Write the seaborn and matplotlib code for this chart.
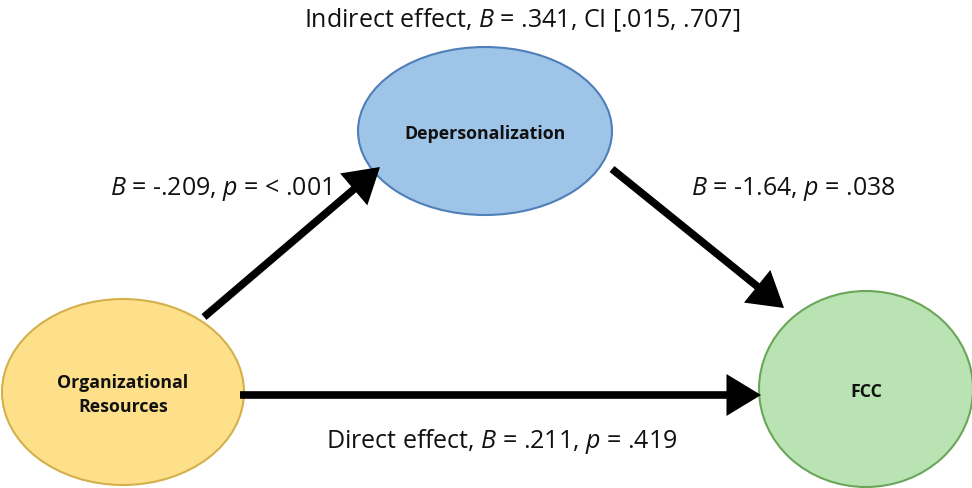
import matplotlib
matplotlib.use("Agg")
import matplotlib.pyplot as plt
import seaborn as sns
from matplotlib.patches import Ellipse

# node labels and path coefficients
nodes = ["Organizational\nResources", "Depersonalization", "FCC"]
a_path = ["-.209", "< .001"]
b_path = ["-1.64", ".038"]
direct = [".211", ".419"]
indirect = [".341", ".015", ".707"]

sns.set_theme(style="white")
plt.rcParams["font.family"] = ["Open Sans", "DejaVu Sans"]
plt.rcParams["mathtext.fontset"] = "custom"
plt.rcParams["mathtext.it"] = "Open Sans:italic"
plt.rcParams["mathtext.rm"] = "Open Sans"

fig = plt.figure(figsize=(9.72, 4.89), dpi=100)
ax = fig.add_axes([0, 0, 1, 1])
ax.set_xlim(0, 972)
ax.set_ylim(489, 0)
ax.axis("off")

# ellipses: (center, width, height, fill, edge)
shapes = [
    ((123, 393), 242, 186, "#FFE08A", "#D4B04A"),
    ((485, 132), 254, 168, "#9EC4E8", "#4F7FB8"),
    ((866, 390), 214, 196, "#B9E3B3", "#6AA65A"),
]
for (c, w, h, fc, ec), name in zip(shapes, nodes):
    ax.add_patch(Ellipse(c, w, h, facecolor=fc, edgecolor=ec, lw=1.5))
    ax.text(c[0], c[1] + 2, name, ha="center", va="center", fontsize=12.8,
            fontweight="bold", color="#111111", linespacing=1.45)

arrow = dict(arrowstyle="-|>,head_length=1.4,head_width=0.85", color="black",
             lw=5.5, shrinkA=0, shrinkB=0, capstyle="butt", joinstyle="miter")
ax.annotate("", xy=(380, 168), xytext=(204, 318), arrowprops=arrow)
ax.annotate("", xy=(784, 309), xytext=(612, 170), arrowprops=arrow)
ax.annotate("", xy=(761, 396), xytext=(240, 396), arrowprops=arrow)

fs = 18
ax.text(522, 20, r"Indirect effect, $\it{B}$ = %s, CI [%s, %s]" % tuple(indirect),
        ha="center", va="center", fontsize=fs, color="#111111")
ax.text(221, 189, r"$\it{B}$ = %s, $\it{p}$ = %s" % tuple(a_path),
        ha="center", va="center", fontsize=fs, color="#111111")
ax.text(793, 189, r"$\it{B}$ = %s, $\it{p}$ = %s" % tuple(b_path),
        ha="center", va="center", fontsize=fs, color="#111111")
ax.text(502, 441, r"Direct effect, $\it{B}$ = %s, $\it{p}$ = %s" % tuple(direct),
        ha="center", va="center", fontsize=fs, color="#111111")

fig.savefig("out.png", dpi=100)
